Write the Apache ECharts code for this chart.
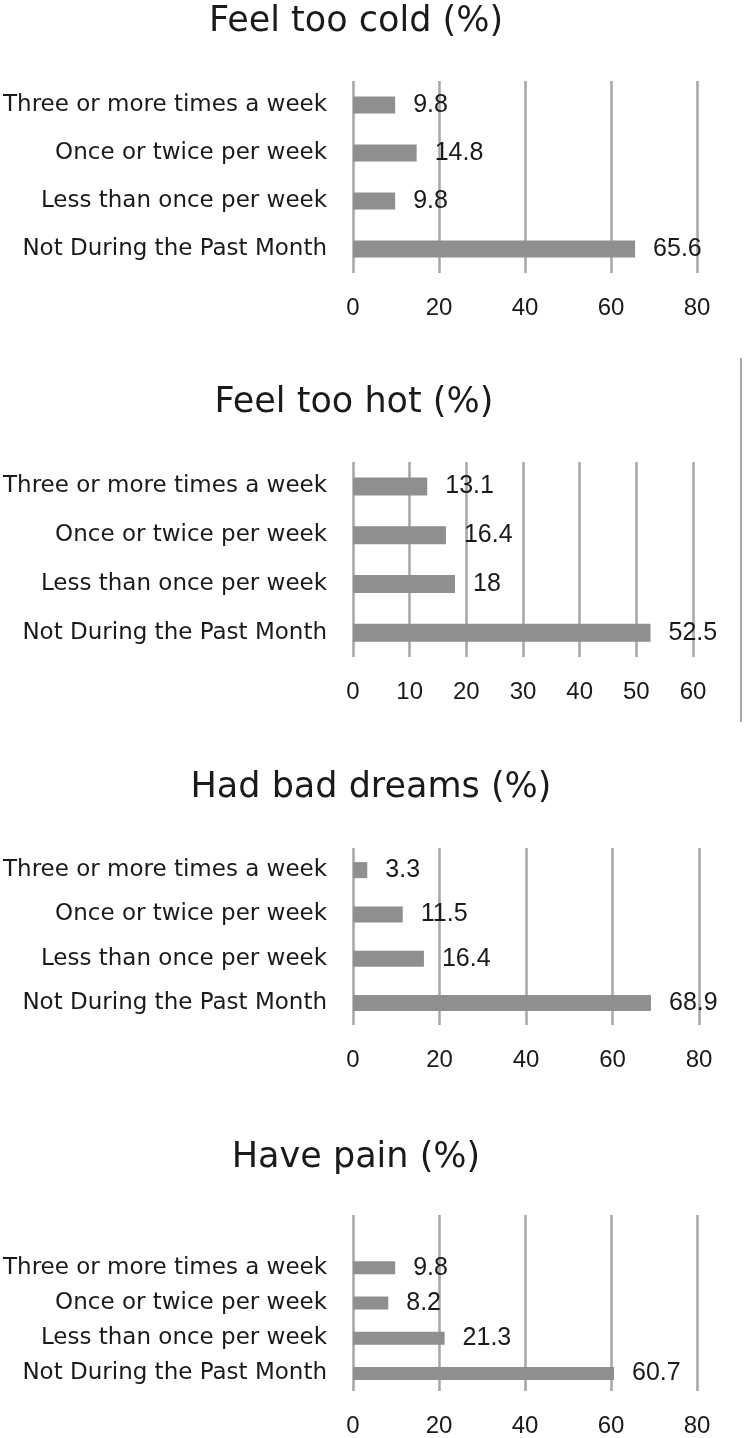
<!DOCTYPE html>
<html>
<head>
<meta charset="utf-8">
<script src="https://cdn.jsdelivr.net/npm/echarts@6/dist/echarts.min.js"></script>
<style>
  html, body { margin: 0; padding: 0; background: #fff; }
  #chart { width: 744px; height: 1438px; }
</style>
</head>
<body>
<div id="chart"></div>
<script>
// categories, top to bottom
const categories = [
  'Three or more times a week',
  'Once or twice per week',
  'Less than once per week',
  'Not During the Past Month'
];
const titles = ['Feel too cold (%)', 'Feel too hot (%)', 'Had bad dreams (%)', 'Have pain (%)'];
const coldValues = [9.8, 14.8, 9.8, 65.6];
const hotValues = [13.1, 16.4, 18, 52.5];
const dreamsValues = [3.3, 11.5, 16.4, 68.9];
const painValues = [9.8, 8.2, 21.3, 60.7];
const axisMax = [80, 60, 80, 80];
const axisStep = [20, 10, 20, 20];

const LABEL_FONT = '"DejaVu Sans", "Noto Sans", sans-serif';
const NUM_FONT = '"Liberation Sans", Arial, sans-serif';
const TEXT_COLOR = '#1a1a1a';
const GRID_COLOR = '#a6a6a6';
const BAR_COLOR = '#8f8f8f';

/**
 * panel layout (px)
 */
const panels = [
  { titleY: -1, titleX: 351, top: 81, height: 192, right: 47, bar: 17, values: coldValues, cats: categories },
  { titleY: 380, titleX: 349, top: 462, height: 195, right: 51, bar: 18, values: hotValues, cats: categories },
  { titleY: 765, titleX: 366, top: 848, height: 177, right: 45, bar: 16, values: dreamsValues, cats: categories },
  // 마지막 패널은 위쪽에 빈 카테고리가 하나 더 있음
  { titleY: 1135, titleX: 351, top: 1215, height: 177, right: 47, bar: 13, values: [null].concat(painValues), cats: [''].concat(categories) }
];

const option = {
  animation: false,
  backgroundColor: '#fff',
  title: panels.map((p, i) => ({
    text: titles[i],
    left: p.titleX,
    top: p.titleY,
    textAlign: 'center',
    textStyle: { fontFamily: LABEL_FONT, fontSize: 35, fontWeight: 'normal', color: TEXT_COLOR }
  })),
  grid: panels.map((p) => ({ left: 353, right: p.right, top: p.top, height: p.height })),
  xAxis: panels.map((p, i) => ({
    type: 'value',
    gridIndex: i,
    min: 0,
    max: axisMax[i],
    interval: axisStep[i],
    axisLine: { show: false },
    axisTick: { show: false },
    axisLabel: { margin: 23, fontFamily: NUM_FONT, fontSize: 24, color: TEXT_COLOR },
    splitLine: { show: true, lineStyle: { color: GRID_COLOR, width: 2.5 } }
  })),
  yAxis: panels.map((p, i) => ({
    type: 'category',
    gridIndex: i,
    inverse: true,
    data: p.cats,
    axisLine: { show: false },
    axisTick: { show: false },
    axisLabel: { margin: 26, fontFamily: LABEL_FONT, fontSize: 23, color: TEXT_COLOR }
  })),
  series: panels.map((p, i) => ({
    type: 'bar',
    xAxisIndex: i,
    yAxisIndex: i,
    data: p.values,
    barWidth: p.bar,
    itemStyle: { color: BAR_COLOR },
    label: {
      show: true,
      position: 'right',
      distance: 18,
      fontFamily: NUM_FONT,
      fontSize: 25,
      color: TEXT_COLOR
    }
  })),
  // 오른쪽 세로 테두리 선
  graphic: [{
    type: 'line',
    shape: { x1: 741, y1: 358, x2: 741, y2: 722 },
    style: { stroke: GRID_COLOR, lineWidth: 2 }
  }]
};

const chart = echarts.init(document.getElementById('chart'), null, { renderer: 'canvas' });
chart.setOption(option);
</script>
</body>
</html>
